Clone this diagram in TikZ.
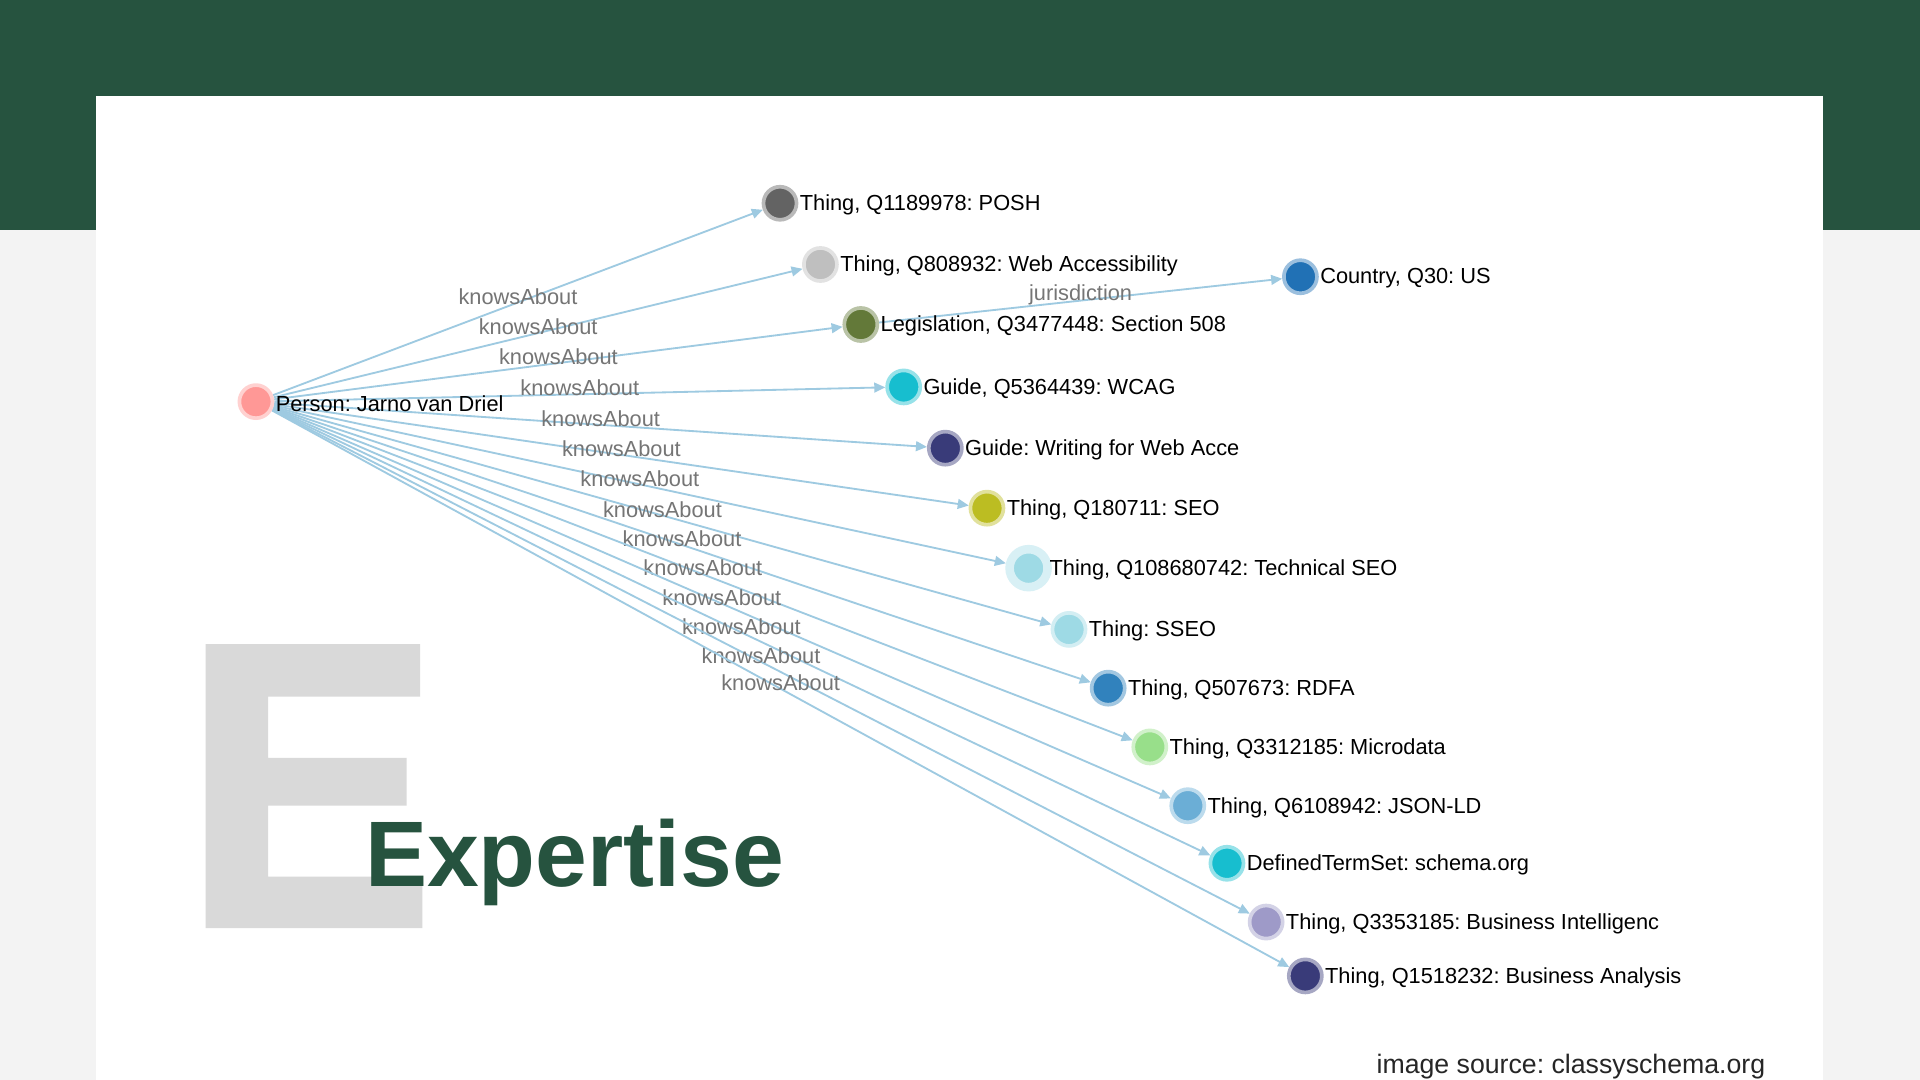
\documentclass[tikz,border=0pt]{standalone}
\usepackage{fontspec}
\setmainfont{Liberation Sans}
\usetikzlibrary{arrows.meta}
\frenchspacing
\definecolor{band}{HTML}{26533F}
\definecolor{pagebg}{HTML}{F3F3F3}
\definecolor{bigE}{HTML}{D9D9D9}
\definecolor{edgec}{HTML}{9ECAE1}
\definecolor{labgray}{HTML}{757575}
\definecolor{cperson}{HTML}{FF9896}
\definecolor{cposh}{HTML}{636363}
\definecolor{cwebacc}{HTML}{BFBFBF}
\definecolor{cs508}{HTML}{637939}
\definecolor{cwcag}{HTML}{17BECF}
\definecolor{cwriting}{HTML}{393B79}
\definecolor{cseo}{HTML}{BCBD22}
\definecolor{ctseo}{HTML}{9EDAE5}
\definecolor{csseo}{HTML}{9EDAE5}
\definecolor{crdfa}{HTML}{3182BD}
\definecolor{cmicro}{HTML}{98DF8A}
\definecolor{cjson}{HTML}{6BAED6}
\definecolor{cdts}{HTML}{17BECF}
\definecolor{cbi}{HTML}{9E9AC8}
\definecolor{cba}{HTML}{393B79}
\definecolor{cus}{HTML}{2171B5}
\pgfdeclarelayer{bg}
\pgfdeclarelayer{edges}
\pgfsetlayers{bg,edges,main}
\begin{document}
\begin{tikzpicture}[x=1pt,y=-1pt,
  dot/.style={circle,minimum size=27pt,inner sep=0pt,fill=#1,draw=#1!45,line width=3pt},
  dotbig/.style={dot=#1,minimum size=31pt,line width=7pt,draw=#1!40},
  lab/.style={anchor=west,inner sep=0pt,yshift=-1.5pt,font=\fontsize{17.8}{20}\selectfont,text=black},
  rel/.style={draw=edgec,line width=1.5pt,-{Triangle[length=9pt,width=8pt]}},
  rellab/.style={midway,yshift=5pt,inner sep=0pt,text=labgray,font=\fontsize{17.8}{20}\selectfont}]
\useasboundingbox (0,0) rectangle (1568,882);
\clip (0,0) rectangle (1568,882);
\begin{pgfonlayer}{bg}
\fill[pagebg] (0,0) rectangle (1568,882);
\fill[band] (0,0) rectangle (1568,188);
\fill[white] (78,78) rectangle (1489,882);
\fill[bigE] (168,526) -- (343,526) -- (343,569) -- (219,569) -- (219,619) -- (332,619)
  -- (332,658) -- (219,658) -- (219,716) -- (345,716) -- (345,758) -- (168,758) -- cycle;
\end{pgfonlayer}
\node[anchor=base west,inner sep=0pt,text=band,font=\fontsize{76}{80}\selectfont\bfseries] (title) at (298,724) {Expertise};
% nodes
\foreach \n/\x/\y/\c/\t in {
  person/209/328/cperson/{Person: Jarno van Driel},
  posh/637/166/cposh/{Thing, Q1189978: POSH},
  webacc/670/216/cwebacc/{Thing, Q808932: Web Accessibility},
  s508/703/265/cs508/{Legislation, Q3477448: Section 508},
  wcag/738/316/cwcag/{Guide, Q5364439: WCAG},
  writing/772/366/cwriting/{Guide: Writing for Web Acce},
  seo/806/415/cseo/{Thing, Q180711: SEO},
  sseo/873/514/csseo/{Thing: SSEO},
  rdfa/905/562/crdfa/{Thing, Q507673: RDFA},
  micro/939/610/cmicro/{Thing, Q3312185: Microdata},
  json/970/658/cjson/{Thing, Q6108942: JSON-LD},
  dts/1002/705/cdts/{DefinedTermSet: schema.org},
  bi/1034/753/cbi/{Thing, Q3353185: Business Intelligenc},
  ba/1066/797/cba/{Thing, Q1518232: Business Analysis},
  us/1062/226/cus/{Country, Q30: US}}{
  \node[dot=\c] (\n) at (\x,\y) {};
  \node[lab] (\n-t) at ([xshift=1pt]\n.east) {\t};
}
\node[dotbig=ctseo] (tseo) at (840,464) {};
\node[lab] (tseo-t) at ([xshift=-2pt]tseo.east) {Thing, Q108680742: Technical SEO};
% edges
\begin{pgfonlayer}{edges}
\foreach \n in {posh,webacc,s508,wcag,writing,seo,tseo,sseo,rdfa,micro,json,dts,bi,ba}{
  \draw[rel] (person) -- (\n) node[rellab] {knowsAbout};
}
\draw[rel] (s508) -- (us) node[rellab] {jurisdiction};
\end{pgfonlayer}
% source
\node[anchor=base west,inner sep=0pt,text=black!85,font=\fontsize{21.8}{24}\selectfont] (src) at (1124,877) {image source: classyschema.org};
\end{tikzpicture}
\end{document}
